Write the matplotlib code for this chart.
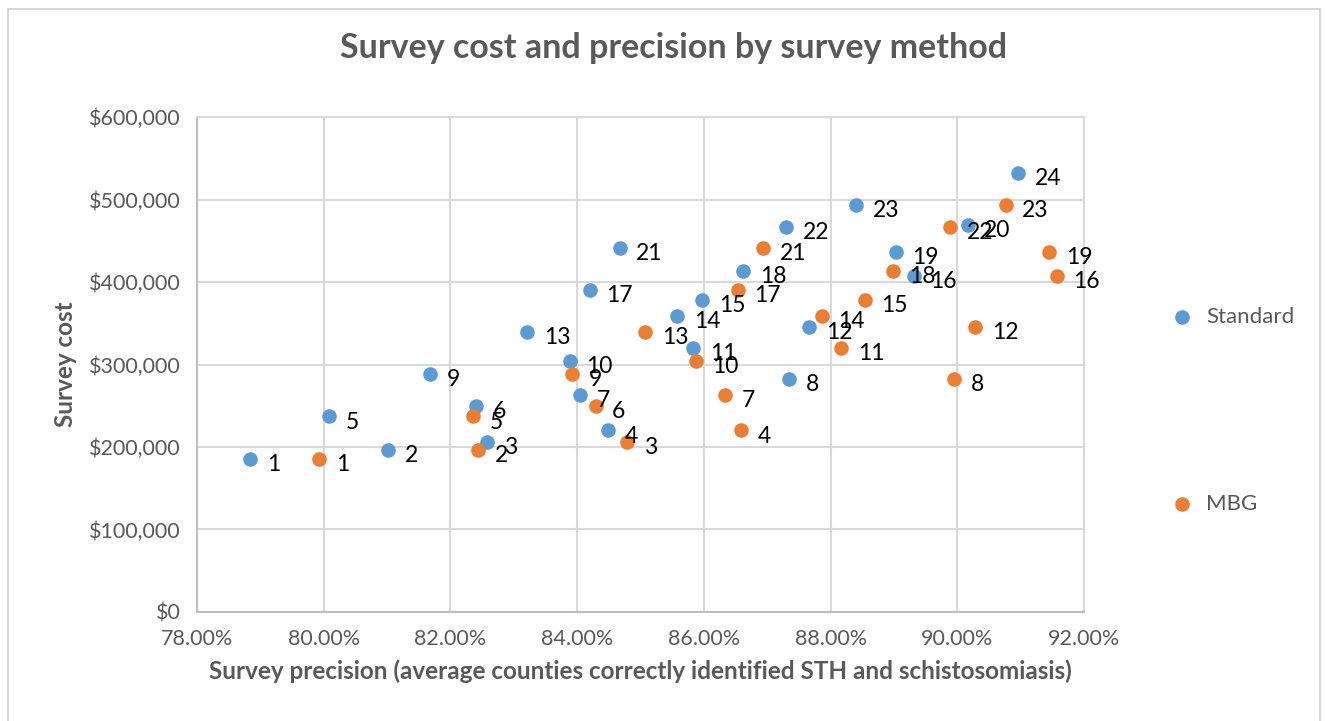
import matplotlib.pyplot as plt
from matplotlib.ticker import FuncFormatter, MultipleLocator
from matplotlib.patches import Rectangle

# survey scenarios (label numbers) and values
std_labels = list(range(1, 25))
std_precision = [78.84, 81.01, 82.58, 84.48, 80.08, 82.41, 84.04, 87.35, 81.68, 83.88, 85.83, 87.66,
                 83.21, 85.58, 85.97, 89.31, 84.20, 86.62, 89.03, 90.16, 84.67, 87.30, 88.40, 90.96]
std_cost = [186000, 196000, 206000, 220000, 237000, 250000, 263000, 283000, 288000, 304000, 320000, 345000,
            339000, 359000, 378000, 407000, 390000, 413000, 436000, 469000, 441000, 467000, 493000, 532000]

mbg_labels = list(range(1, 20)) + [21, 22, 23]
mbg_precision = [79.93, 82.43, 84.79, 86.59, 82.35, 84.29, 86.33, 89.95, 83.92, 85.87, 88.17, 90.28,
                 85.07, 87.86, 88.54, 91.57, 86.53, 88.98, 91.45, 86.94, 89.88, 90.76]
mbg_cost = [186000, 196000, 206000, 220000, 237000, 250000, 263000, 283000, 288000, 304000, 320000, 345000,
            339000, 359000, 378000, 407000, 390000, 413000, 436000, 441000, 467000, 493000]

blue = "#5B9BD5"
orange = "#ED7D31"
grey_txt = "#595959"
grid_c = "#D9D9D9"

plt.rcParams['font.family'] = ['Lato', 'DejaVu Sans']

fig = plt.figure(figsize=(13.25, 7.21), dpi=100)
ax = fig.add_axes([0.1487, 0.1512, 0.6695, 0.6865])

# outer chart border
fig.patches.append(Rectangle((0.006, -0.01), 0.99, 0.997, transform=fig.transFigure,
                             fill=False, edgecolor="#D0D0D0", linewidth=1.2))

s1 = ax.scatter(std_precision, std_cost, s=110, color=blue, zorder=3, label="Standard", linewidths=0)
s2 = ax.scatter(mbg_precision, mbg_cost, s=110, color=orange, zorder=3, label="MBG", linewidths=0)

for lab, x, y in zip(std_labels, std_precision, std_cost):
    ax.annotate(str(lab), (x, y), xytext=(12, -4), textcoords="offset points",
                ha="left", va="center", fontsize=16.5, color="black", zorder=4)
for lab, x, y in zip(mbg_labels, mbg_precision, mbg_cost):
    ax.annotate(str(lab), (x, y), xytext=(12, -4), textcoords="offset points",
                ha="left", va="center", fontsize=16.5, color="black", zorder=4)

ax.set_xlim(78, 92)
ax.set_ylim(0, 600000)
ax.xaxis.set_major_locator(MultipleLocator(2))
ax.yaxis.set_major_locator(MultipleLocator(100000))
ax.xaxis.set_major_formatter(FuncFormatter(lambda v, p: f"{v:.2f}%"))
ax.yaxis.set_major_formatter(FuncFormatter(lambda v, p: f"${v:,.0f}"))
ax.grid(True, color=grid_c, linewidth=1.5, zorder=0)
ax.set_axisbelow(True)
ax.tick_params(length=0, labelsize=15.5, labelcolor=grey_txt, pad=12)
for sp in ax.spines.values():
    sp.set_color(grid_c)
    sp.set_linewidth(1.5)
ax.spines["left"].set_color("#BFBFBF")
ax.spines["bottom"].set_color("#BFBFBF")

ax.set_xlabel("Survey precision (average counties correctly identified STH and schistosomiasis)",
              fontsize=17.5, fontweight="bold", color=grey_txt, labelpad=8)
ax.set_ylabel("Survey cost", fontsize=17.5, fontweight="bold", color=grey_txt, labelpad=8)
fig.text(0.508, 0.934, "Survey cost and precision by survey method", ha="center", va="center",
         fontsize=24.5, fontweight="bold", color=grey_txt)

fig.legend(handles=[s1, s2], loc="upper left", bbox_to_anchor=(0.86, 0.602), frameon=False,
           fontsize=16, labelspacing=7.5, handletextpad=0.1, markerscale=1.0,
           labelcolor=grey_txt)

fig.savefig("out.png", dpi=100)
